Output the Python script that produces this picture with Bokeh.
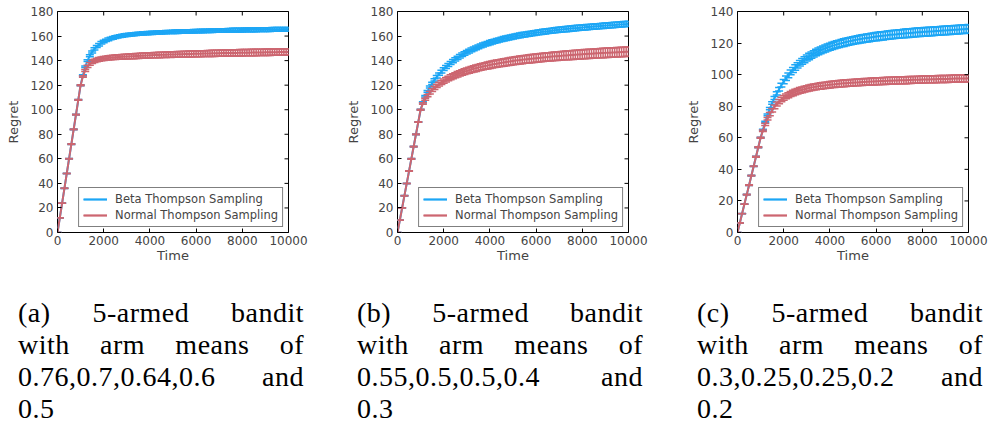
import math
from bokeh.plotting import figure
from bokeh.models import (FixedTicker, Legend, LegendItem,
                          ColumnDataSource, Div, Range1d)
from bokeh.layouts import row, column
from bokeh.embed import file_html
from bokeh.resources import INLINE

# ---------------- data ----------------
time_steps = list(range(0, 10001, 100))
x_ticks = [0, 2000, 4000, 6000, 8000, 10000]
series_labels = ["Beta Thompson Sampling", "Normal Thompson Sampling"]
captions = [
    ["(a) 5-armed bandit", "with arm means of", "0.76,0.7,0.64,0.6 and", "0.5"],
    ["(b) 5-armed bandit", "with arm means of", "0.55,0.5,0.5,0.4 and", "0.3"],
    ["(c) 5-armed bandit", "with arm means of", "0.3,0.25,0.25,0.2 and", "0.2"],
]

A_beta = [
    0, 12, 24, 36, 48, 60, 72, 84, 96, 108, 120,
    128, 135, 140, 144, 147, 149.5, 151.5, 153, 154.5, 155.6,
    156.5, 157.3, 158, 158.6, 159.1, 159.5, 159.9, 160.3, 160.6, 160.9,
    161.1, 161.3, 161.5, 161.7, 161.9, 162.0, 162.2, 162.3, 162.4, 162.5,
    162.6, 162.7, 162.8, 162.9, 163.0, 163.1, 163.2, 163.3, 163.3, 163.4,
    163.5, 163.5, 163.6, 163.6, 163.7, 163.7, 163.8, 163.8, 163.9, 164.0,
    164.0, 164.1, 164.1, 164.2, 164.2, 164.3, 164.3, 164.4, 164.4, 164.5,
    164.5, 164.6, 164.6, 164.7, 164.7, 164.8, 164.8, 164.8, 164.9, 164.9,
    165.0, 165.0, 165.0, 165.1, 165.1, 165.1, 165.2, 165.2, 165.2, 165.3,
    165.3, 165.3, 165.4, 165.4, 165.4, 165.4, 165.5, 165.5, 165.5, 165.5]
A_beta_err = [
    0.0, 0.1, 0.1, 0.2, 0.2, 0.2, 0.3, 0.3, 0.3, 0.3, 0.4,
    0.5, 0.6, 0.7, 0.8, 0.8, 0.9, 0.9, 1.0, 1.0, 1.0,
    1.0, 1.1, 1.1, 1.1, 1.1, 1.1, 1.1, 1.2, 1.2, 1.2,
    1.2, 1.2, 1.2, 1.2, 1.2, 1.2, 1.3, 1.3, 1.3, 1.3,
    1.3, 1.3, 1.3, 1.3, 1.3, 1.3, 1.3, 1.3, 1.3, 1.3,
    1.4, 1.4, 1.4, 1.4, 1.4, 1.4, 1.4, 1.4, 1.4, 1.4,
    1.4, 1.4, 1.4, 1.4, 1.4, 1.4, 1.4, 1.4, 1.4, 1.4,
    1.4, 1.4, 1.4, 1.4, 1.4, 1.5, 1.5, 1.5, 1.5, 1.5,
    1.5, 1.5, 1.5, 1.5, 1.5, 1.5, 1.5, 1.5, 1.5, 1.5,
    1.5, 1.5, 1.5, 1.5, 1.5, 1.5, 1.5, 1.5, 1.5, 1.5]
A_normal = [
    0, 12, 24, 36, 48, 60, 72, 84, 96, 108, 120,
    127, 132, 135.3, 137.4, 138.8, 139.8, 140.5, 141.0, 141.4, 141.7,
    142.0, 142.2, 142.4, 142.6, 142.8, 142.9, 143.0, 143.1, 143.2, 143.3,
    143.4, 143.5, 143.6, 143.7, 143.8, 143.9, 144.0, 144.1, 144.2, 144.3,
    144.4, 144.5, 144.5, 144.6, 144.7, 144.7, 144.8, 144.9, 144.9, 145.0,
    145.0, 145.1, 145.2, 145.2, 145.3, 145.3, 145.4, 145.4, 145.5, 145.5,
    145.6, 145.6, 145.7, 145.7, 145.8, 145.8, 145.9, 145.9, 146.0, 146.0,
    146.1, 146.1, 146.1, 146.2, 146.2, 146.3, 146.3, 146.3, 146.4, 146.4,
    146.5, 146.5, 146.5, 146.6, 146.6, 146.6, 146.7, 146.7, 146.7, 146.8,
    146.8, 146.8, 146.9, 146.9, 146.9, 147.0, 147.0, 147.0, 147.1, 147.1]
A_normal_err = [
    0.0, 0.1, 0.1, 0.2, 0.2, 0.2, 0.3, 0.3, 0.3, 0.3, 0.4,
    0.6, 0.8, 1.0, 1.1, 1.2, 1.3, 1.4, 1.5, 1.5, 1.6,
    1.6, 1.7, 1.7, 1.7, 1.8, 1.8, 1.8, 1.9, 1.9, 1.9,
    1.9, 2.0, 2.0, 2.0, 2.0, 2.0, 2.1, 2.1, 2.1, 2.1,
    2.1, 2.1, 2.2, 2.2, 2.2, 2.2, 2.2, 2.2, 2.3, 2.3,
    2.3, 2.3, 2.3, 2.3, 2.3, 2.4, 2.4, 2.4, 2.4, 2.4,
    2.4, 2.4, 2.4, 2.4, 2.5, 2.5, 2.5, 2.5, 2.5, 2.5,
    2.5, 2.5, 2.5, 2.5, 2.5, 2.5, 2.6, 2.6, 2.6, 2.6,
    2.6, 2.6, 2.6, 2.6, 2.6, 2.6, 2.6, 2.6, 2.6, 2.6,
    2.6, 2.6, 2.6, 2.6, 2.6, 2.6, 2.6, 2.6, 2.6, 2.6]

B_beta = [
    0, 10, 20, 30, 40, 50, 60, 70, 80, 90, 100,
    106, 111, 115, 118.5, 121.5, 124.3, 126.8, 129.0, 131.0, 133.0,
    134.8, 136.5, 138.1, 139.6, 141.0, 142.3, 143.5, 144.7, 145.8, 146.8,
    147.8, 148.7, 149.6, 150.4, 151.2, 152.0, 152.7, 153.4, 154.0, 154.6,
    155.2, 155.8, 156.3, 156.8, 157.3, 157.8, 158.2, 158.6, 159.0, 159.4,
    159.8, 160.2, 160.5, 160.9, 161.2, 161.5, 161.8, 162.1, 162.4, 162.7,
    163.0, 163.2, 163.5, 163.7, 164.0, 164.2, 164.4, 164.7, 164.9, 165.1,
    165.3, 165.5, 165.7, 165.9, 166.1, 166.3, 166.4, 166.6, 166.8, 167.0,
    167.1, 167.3, 167.4, 167.6, 167.7, 167.9, 168.0, 168.2, 168.3, 168.5,
    168.6, 168.8, 168.9, 169.1, 169.2, 169.4, 169.5, 169.7, 169.8, 170.0]
B_beta_err = [
    0.0, 0.1, 0.1, 0.2, 0.2, 0.2, 0.3, 0.3, 0.3, 0.3, 0.4,
    0.5, 0.6, 0.7, 0.8, 0.9, 0.9, 1.0, 1.0, 1.1, 1.1,
    1.2, 1.2, 1.2, 1.3, 1.3, 1.3, 1.4, 1.4, 1.4, 1.4,
    1.5, 1.5, 1.5, 1.5, 1.6, 1.6, 1.6, 1.6, 1.6, 1.7,
    1.7, 1.7, 1.7, 1.7, 1.7, 1.8, 1.8, 1.8, 1.8, 1.8,
    1.8, 1.8, 1.9, 1.9, 1.9, 1.9, 1.9, 1.9, 1.9, 1.9,
    2.0, 2.0, 2.0, 2.0, 2.0, 2.0, 2.0, 2.0, 2.0, 2.0,
    2.0, 2.0, 2.1, 2.1, 2.1, 2.1, 2.1, 2.1, 2.1, 2.1,
    2.1, 2.1, 2.1, 2.1, 2.1, 2.1, 2.1, 2.1, 2.1, 2.1,
    2.1, 2.1, 2.1, 2.1, 2.1, 2.1, 2.1, 2.1, 2.1, 2.1]
B_normal = [
    0, 10, 20, 30, 40, 50, 60, 70, 80, 90, 100,
    105, 108.6, 111.5, 113.9, 116.0, 117.8, 119.4, 120.8, 122.1, 123.3,
    124.4, 125.4, 126.4, 127.3, 128.1, 128.9, 129.6, 130.3, 131.0, 131.6,
    132.2, 132.8, 133.3, 133.8, 134.3, 134.8, 135.2, 135.6, 136.0, 136.4,
    136.8, 137.2, 137.5, 137.9, 138.2, 138.5, 138.8, 139.1, 139.4, 139.7,
    140.0, 140.2, 140.5, 140.7, 141.0, 141.2, 141.4, 141.6, 141.8, 142.0,
    142.2, 142.4, 142.6, 142.8, 143.0, 143.1, 143.3, 143.5, 143.6, 143.8,
    143.9, 144.1, 144.2, 144.4, 144.5, 144.6, 144.8, 144.9, 145.0, 145.2,
    145.3, 145.4, 145.5, 145.6, 145.8, 145.9, 146.0, 146.1, 146.2, 146.3,
    146.4, 146.5, 146.6, 146.7, 146.8, 146.9, 147.0, 147.1, 147.2, 147.3]
B_normal_err = [
    0.0, 0.1, 0.1, 0.2, 0.2, 0.2, 0.3, 0.3, 0.3, 0.3, 0.4,
    0.6, 0.8, 1.0, 1.1, 1.2, 1.3, 1.4, 1.5, 1.6, 1.7,
    1.8, 1.9, 2.0, 2.0, 2.1, 2.2, 2.2, 2.3, 2.3, 2.4,
    2.4, 2.5, 2.5, 2.6, 2.6, 2.7, 2.7, 2.7, 2.8, 2.8,
    2.8, 2.9, 2.9, 2.9, 3.0, 3.0, 3.0, 3.0, 3.1, 3.1,
    3.1, 3.1, 3.2, 3.2, 3.2, 3.2, 3.3, 3.3, 3.3, 3.3,
    3.3, 3.4, 3.4, 3.4, 3.4, 3.4, 3.5, 3.5, 3.5, 3.5,
    3.5, 3.5, 3.6, 3.6, 3.6, 3.6, 3.6, 3.6, 3.6, 3.7,
    3.7, 3.7, 3.7, 3.7, 3.7, 3.7, 3.7, 3.8, 3.8, 3.8,
    3.8, 3.8, 3.8, 3.8, 3.8, 3.8, 3.8, 3.8, 3.8, 3.8]

C_beta = [
    0, 6, 12, 18, 24, 30, 36, 42, 48, 54, 60,
    65, 70, 74.5, 78.5, 82.0, 85.2, 88.1, 90.8, 93.3, 95.6,
    97.7, 99.6, 101.4, 103.0, 104.5, 105.9, 107.2, 108.4, 109.5, 110.5,
    111.5, 112.4, 113.2, 114.0, 114.7, 115.4, 116.0, 116.6, 117.2, 117.7,
    118.2, 118.7, 119.1, 119.5, 119.9, 120.3, 120.7, 121.0, 121.3, 121.6,
    121.9, 122.2, 122.5, 122.7, 123.0, 123.2, 123.4, 123.7, 123.9, 124.1,
    124.3, 124.5, 124.6, 124.8, 125.0, 125.2, 125.3, 125.5, 125.6, 125.8,
    125.9, 126.0, 126.2, 126.3, 126.4, 126.5, 126.7, 126.8, 126.9, 127.0,
    127.1, 127.2, 127.3, 127.4, 127.5, 127.6, 127.7, 127.8, 127.9, 128.0,
    128.1, 128.2, 128.3, 128.4, 128.5, 128.6, 128.7, 128.8, 128.9, 129.0]
C_beta_err = [
    0.0, 0.1, 0.1, 0.1, 0.2, 0.2, 0.2, 0.2, 0.3, 0.3, 0.3,
    0.4, 0.5, 0.6, 0.7, 0.8, 0.9, 1.0, 1.1, 1.2, 1.3,
    1.4, 1.5, 1.5, 1.6, 1.7, 1.7, 1.8, 1.8, 1.9, 1.9,
    2.0, 2.0, 2.0, 2.1, 2.1, 2.1, 2.2, 2.2, 2.2, 2.2,
    2.3, 2.3, 2.3, 2.3, 2.3, 2.4, 2.4, 2.4, 2.4, 2.4,
    2.4, 2.5, 2.5, 2.5, 2.5, 2.5, 2.5, 2.5, 2.5, 2.6,
    2.6, 2.6, 2.6, 2.6, 2.6, 2.6, 2.6, 2.6, 2.6, 2.6,
    2.6, 2.7, 2.7, 2.7, 2.7, 2.7, 2.7, 2.7, 2.7, 2.7,
    2.7, 2.7, 2.7, 2.7, 2.7, 2.7, 2.7, 2.7, 2.7, 2.7,
    2.7, 2.7, 2.7, 2.7, 2.7, 2.7, 2.7, 2.7, 2.7, 2.7]
C_normal = [
    0, 6, 12, 18, 24, 30, 36, 42, 48, 54, 60,
    64.5, 68.5, 72.0, 75.0, 77.5, 79.6, 81.4, 82.9, 84.2, 85.3,
    86.2, 87.0, 87.7, 88.4, 89.0, 89.5, 90.0, 90.4, 90.8, 91.2,
    91.5, 91.8, 92.1, 92.4, 92.6, 92.8, 93.0, 93.2, 93.4, 93.6,
    93.8, 93.9, 94.1, 94.2, 94.4, 94.5, 94.6, 94.7, 94.8, 94.9,
    95.0, 95.1, 95.2, 95.3, 95.4, 95.5, 95.5, 95.6, 95.7, 95.8,
    95.8, 95.9, 96.0, 96.0, 96.1, 96.2, 96.2, 96.3, 96.3, 96.4,
    96.4, 96.5, 96.5, 96.6, 96.6, 96.7, 96.7, 96.8, 96.8, 96.9,
    96.9, 97.0, 97.0, 97.1, 97.1, 97.1, 97.2, 97.2, 97.3, 97.3,
    97.3, 97.4, 97.4, 97.5, 97.5, 97.5, 97.6, 97.6, 97.6, 97.7]
C_normal_err = [
    0.0, 0.1, 0.1, 0.1, 0.2, 0.2, 0.2, 0.2, 0.3, 0.3, 0.3,
    0.5, 0.7, 0.8, 1.0, 1.1, 1.2, 1.3, 1.4, 1.4, 1.5,
    1.5, 1.6, 1.6, 1.7, 1.7, 1.7, 1.8, 1.8, 1.8, 1.8,
    1.9, 1.9, 1.9, 1.9, 1.9, 2.0, 2.0, 2.0, 2.0, 2.0,
    2.0, 2.0, 2.0, 2.1, 2.1, 2.1, 2.1, 2.1, 2.1, 2.1,
    2.1, 2.1, 2.1, 2.1, 2.1, 2.1, 2.1, 2.2, 2.2, 2.2,
    2.2, 2.2, 2.2, 2.2, 2.2, 2.2, 2.2, 2.2, 2.2, 2.2,
    2.2, 2.2, 2.2, 2.2, 2.2, 2.2, 2.2, 2.2, 2.2, 2.2,
    2.2, 2.2, 2.2, 2.2, 2.2, 2.2, 2.2, 2.2, 2.2, 2.2,
    2.2, 2.2, 2.2, 2.2, 2.2, 2.2, 2.2, 2.2, 2.2, 2.2]

panels = [
    dict(beta=A_beta, beta_err=A_beta_err, normal=A_normal, normal_err=A_normal_err,
         y_max=180, y_ticks=[0, 20, 40, 60, 80, 100, 120, 140, 160, 180]),
    dict(beta=B_beta, beta_err=B_beta_err, normal=B_normal, normal_err=B_normal_err,
         y_max=180, y_ticks=[0, 20, 40, 60, 80, 100, 120, 140, 160, 180]),
    dict(beta=C_beta, beta_err=C_beta_err, normal=C_normal, normal_err=C_normal_err,
         y_max=140, y_ticks=[0, 20, 40, 60, 80, 100, 120, 140]),
]

BLUE = "#1CA6F5"
RED = "#CC6670"
FONT = "DejaVu Sans"


def src_of(vals, errs):
    n = min(len(time_steps), len(vals), len(errs))
    return ColumnDataSource(dict(
        t=time_steps[:n], y=vals[:n],
        lo=[v - e for v, e in zip(vals[:n], errs[:n])],
        hi=[v + e for v, e in zip(vals[:n], errs[:n])]))


def style_axis(ax, ticks):
    ax.ticker = FixedTicker(ticks=ticks)
    ax.major_tick_in = 4
    ax.major_tick_out = 0
    ax.minor_tick_in = 0
    ax.minor_tick_out = 0
    ax.major_tick_line_color = "black"
    ax.major_tick_line_width = 1
    ax.axis_line_color = None
    ax.major_label_text_font = FONT
    ax.major_label_text_font_size = "12px"
    ax.major_label_standoff = 4
    ax.axis_label_text_font = FONT
    ax.axis_label_text_font_size = "13px"
    ax.axis_label_text_font_style = "normal"


def make_panel(cfg, width, border_right):
    y_max = cfg["y_max"]
    p = figure(width=width, height=280, output_backend="svg", toolbar_location=None,
               x_range=Range1d(0, 10000), y_range=Range1d(0, y_max),
               min_border_left=57, min_border_right=border_right,
               min_border_top=11, min_border_bottom=48)
    p.grid.visible = False
    p.outline_line_color = "black"
    p.outline_line_width = 1
    p.background_fill_color = "white"
    p.border_fill_color = "white"

    style_axis(p.xaxis[0], x_ticks)
    style_axis(p.yaxis[0], cfg["y_ticks"])
    p.xaxis[0].major_label_standoff = 3
    p.xaxis.axis_label = "Time"
    p.yaxis.axis_label = "Regret"
    p.xaxis[0].axis_label_standoff = 0
    p.yaxis[0].axis_label_standoff = 7

    renderers = []
    for vals, errs, col in ((cfg["beta"], cfg["beta_err"], BLUE),
                            (cfg["normal"], cfg["normal_err"], RED)):
        s = src_of(vals, errs)
        ln = p.line("t", "y", source=s, line_color=col, line_width=2)
        sg = p.segment(x0="t", y0="lo", x1="t", y1="hi", source=s,
                       line_color=col, line_width=1.5)
        p.scatter("t", "lo", source=s, marker="dash", size=8,
                  line_color=col, line_width=1.5)
        p.scatter("t", "hi", source=s, marker="dash", size=8,
                  line_color=col, line_width=1.5)
        renderers.append([ln, sg])

    # inward ticks on the top and right frame edges (clipped to the frame)
    p.scatter(x=x_ticks, y=[y_max] * len(x_ticks), marker="dash", size=8,
              angle=math.pi / 2, line_color="black", line_width=1)
    p.scatter(x=[10000] * len(cfg["y_ticks"]), y=cfg["y_ticks"], marker="dash",
              size=8, line_color="black", line_width=1)

    legend = Legend(items=[LegendItem(label=series_labels[0], renderers=renderers[0]),
                           LegendItem(label=series_labels[1], renderers=renderers[1])],
                    location="bottom_right")
    legend.border_line_color = "black"
    legend.border_line_width = 1
    legend.background_fill_color = "white"
    legend.background_fill_alpha = 1
    legend.label_text_font = FONT
    legend.label_text_font_size = "11.5px"
    legend.glyph_width = 24
    legend.glyph_height = 14
    legend.label_height = 14
    legend.label_standoff = 8
    legend.padding = 4
    legend.spacing = 2
    legend.margin = 5
    p.add_layout(legend)
    return p


def make_caption(lines, width, left):
    parts = []
    for i, ln in enumerate(lines):
        just = ("text-align:justify;text-align-last:justify;"
                if i < len(lines) - 1 else "text-align:left;")
        parts.append('<div style="%s white-space:nowrap;">%s</div>' % (just, ln))
    html = ('<div style="margin-left:%dpx;width:286px;padding-top:17px;'
            'font-family:\'Liberation Serif\',serif;font-size:28px;line-height:32px;'
            'letter-spacing:0.5px;color:#000;">%s</div>') % (left, "".join(parts))
    return Div(text=html, width=width, height=154, margin=0)


widths = [340, 340, 315]
borders_right = [52, 52, 27]
figs = [make_panel(cfg, w, b) for cfg, w, b in zip(panels, widths, borders_right)]
caps = [make_caption(captions[0], 340, 18),
        make_caption(captions[1], 340, 17),
        make_caption(captions[2], 315, 17)]

layout = column(row(*figs, spacing=0), row(*caps, spacing=0), spacing=0)
open("out.html", "w").write(file_html(layout, INLINE))
